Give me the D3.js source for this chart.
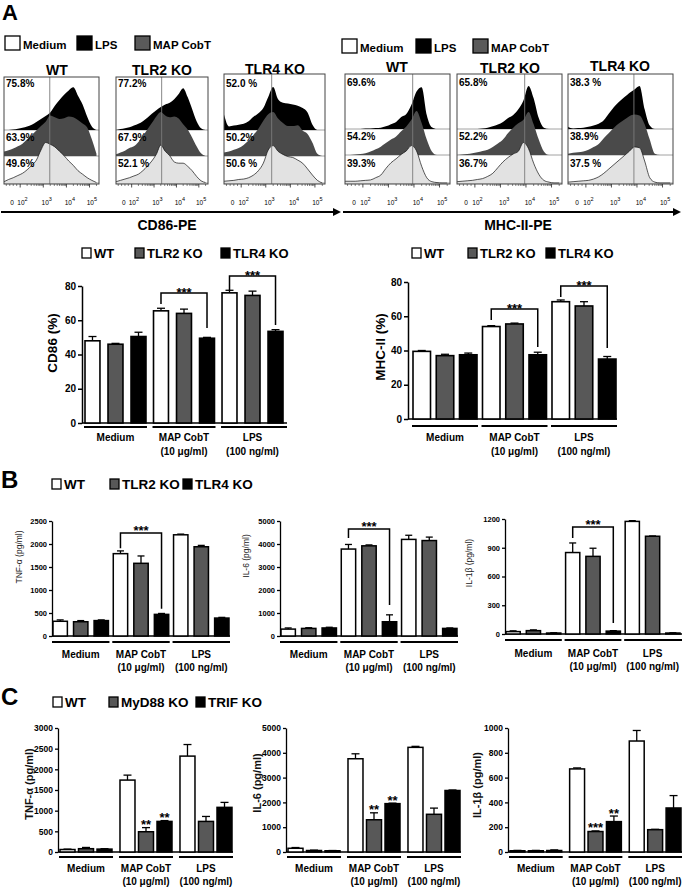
<!DOCTYPE html>
<html><head><meta charset="utf-8">
<script src="https://cdn.jsdelivr.net/npm/d3@7"></script>
<style>
body{margin:0;background:#fff;}
svg{display:block;font-family:"Liberation Sans",Arial,Helvetica,sans-serif;}
</style></head><body>
<svg id="fig" width="683" height="888"></svg>
<script>
// ================= DATA =================
const groups = ["Medium", "MAP CobT", "LPS"];
const groupSub = ["", "(10 μg/ml)", "(100 ng/ml)"];
const strainsTLR = ["WT", "TLR2 KO", "TLR4 KO"];
const strainsAdaptor = ["WT", "MyD88 KO", "TRIF KO"];
const histTreatments = ["Medium", "LPS", "MAP CobT"];

// Panel A bar charts (% positive), rows = groups, cols = strains
const cd86Mean = [[48, 46, 50.5], [65.5, 64, 49.5], [76, 74.5, 53.5]];
const cd86Err  = [[2.5, 0.5, 2.5], [1.5, 2.5, 0.5], [1.5, 2.5, 1]];
const mhcMean  = [[39.5, 37, 37.5], [54, 55.5, 37.5], [68.5, 66, 35]];
const mhcErr   = [[0.5, 0.8, 1], [0.5, 0.5, 1.5], [1, 2.5, 1.5]];
const pctTicks = [0, 20, 40, 60, 80];

// Panel B (pg/ml)
const tnfB = [[320, 310, 335], [1790, 1580, 470], [2200, 1940, 390]];
const tnfBErr = [[30, 25, 15], [60, 160, 20], [15, 30, 15]];
const il6B = [[300, 330, 350], [3780, 3920, 620], [4200, 4150, 330]];
const il6BErr = [[50, 30, 30], [200, 40, 300], [180, 150, 20]];
const il1bB = [[25, 35, 10], [850, 810, 30], [1175, 1020, 10]];
const il1bBErr = [[8, 8, 3], [100, 85, 5], [8, 3, 3]];
const tnfBTicks = [0, 500, 1000, 1500, 2000, 2500];
const il6Ticks = [0, 1000, 2000, 3000, 4000, 5000];
const il1bBTicks = [0, 300, 600, 900, 1200];

// Panel C (pg/ml)
const tnfC = [[60, 80, 70], [1740, 490, 740], [2320, 740, 1080]];
const tnfCErr = [[10, 30, 10], [120, 100, 20], [280, 120, 120]];
const il6C = [[150, 60, 50], [3760, 1300, 1950], [4220, 1520, 2480]];
const il6CErr = [[30, 15, 10], [200, 280, 20], [40, 250, 20]];
const il1bC = [[10, 10, 12], [670, 165, 245], [895, 180, 355]];
const il1bCErr = [[3, 3, 5], [8, 5, 45], [85, 3, 100]];
const tnfCTicks = [0, 500, 1000, 1500, 2000, 2500, 3000];
const il1bCTicks = [0, 200, 400, 600, 800, 1000];

// significance brackets: [group, fromSeries, toSeries, topValue, leftEndValue, rightEndValue, label]
const cd86Brackets = [[1, 0, 2, 75.9, 69.5, 55.5, "***"], [2, 0, 2, 85.8, 77.7, 57.2, "***"]];
const mhcBrackets  = [[1, 0, 2, 64.2, 57.8, 42.0, "***"], [2, 0, 2, 77.7, 71.2, 41.5, "***"]];
const tnfBBrackets = [[1, 0, 2, 2240, 1910, 590, "***"]];
const il6BBrackets = [[1, 0, 2, 4650, 4260, 1350, "***"]];
const il1bBBrackets = [[1, 0, 2, 1117, 1002, 115, "***"]];
// stars above bars: [group, series, label]
const tnfCStars = [[1, 1, "**"], [1, 2, "**"]];
const il6CStars = [[1, 1, "**"], [1, 2, "**"]];
const il1bCStars = [[1, 1, "***"], [1, 2, "**"]];

// Flow histograms: x = log-fluorescence (decades), y = relative counts
const histX = [1.3, 1.5, 1.7, 1.9, 2.1, 2.3, 2.5, 2.7, 2.9, 3.1, 3.3, 3.5, 3.7, 3.9, 4.1, 4.3, 4.5, 4.7, 4.9, 5.1, 5.3];
const histTickVals = [1.65, 2.1, 3.15, 4.15, 5.1];
const histTickLabels = ["0", "2", "3", "4", "5"];
// CD86
const cd86WT_LPS   = [0, 0, 1, 3, 5, 8, 12, 18, 25, 32, 40, 55, 68, 80, 90, 97, 78, 58, 30, 8, 0];
const cd86WT_MAP   = [10, 13, 17, 22, 28, 38, 48, 58, 68, 78, 92, 88, 84, 86, 90, 88, 82, 74, 65, 38, 5];
const cd86WT_Med   = [3, 8, 12, 17, 22, 30, 40, 52, 75, 92, 88, 82, 72, 62, 50, 40, 28, 20, 12, 6, 1];
const cd86TLR2_LPS = [0, 2, 4, 6, 10, 14, 20, 28, 37, 45, 52, 58, 62, 70, 82, 95, 75, 48, 20, 4, 0];
const cd86TLR2_MAP = [4, 8, 12, 18, 22, 32, 45, 60, 75, 90, 100, 92, 88, 90, 85, 72, 60, 42, 22, 6, 0];
const cd86TLR2_Med = [3, 6, 9, 12, 16, 20, 28, 38, 50, 65, 86, 72, 62, 48, 45, 45, 38, 28, 15, 5, 1];
const cd86TLR4_LPS = [35, 8, 10, 12, 14, 20, 30, 38, 50, 75, 98, 70, 62, 60, 58, 55, 50, 40, 12, 0, 0];
const cd86TLR4_MAP = [8, 10, 14, 18, 25, 35, 48, 62, 80, 95, 100, 85, 75, 68, 68, 70, 58, 50, 30, 5, 0];
const cd86TLR4_Med = [4, 5, 6, 8, 9, 12, 18, 28, 45, 75, 85, 72, 65, 60, 58, 52, 45, 32, 18, 6, 0];
// MHC-II
const mhcWT_LPS   = [0, 0, 0, 0, 1, 1, 2, 3, 6, 11, 16, 27, 34, 55, 85, 95, 32, 4, 0, 0, 0];
const mhcWT_MAP   = [0, 0, 1, 2, 4, 8, 13, 19, 27, 35, 42, 54, 65, 80, 100, 73, 35, 8, 0, 0, 0];
const mhcWT_Med   = [4, 4, 4, 5, 6, 7, 12, 18, 33, 46, 55, 65, 73, 85, 73, 38, 12, 3, 1, 0, 0];
const mhcTLR2_LPS = [0, 0, 0, 0, 0, 1, 3, 6, 10, 16, 25, 32, 45, 65, 98, 70, 25, 3, 0, 0, 0];
const mhcTLR2_MAP = [0, 1, 2, 4, 6, 9, 12, 18, 26, 35, 50, 62, 72, 80, 98, 70, 35, 8, 0, 0, 0];
const mhcTLR2_Med = [3, 4, 5, 6, 8, 10, 15, 22, 35, 48, 58, 66, 72, 92, 78, 45, 20, 6, 2, 0, 0];
const mhcTLR4_LPS = [5, 1, 2, 3, 5, 8, 12, 20, 35, 50, 62, 72, 82, 90, 98, 45, 8, 0, 0, 0, 0];
const mhcTLR4_MAP = [3, 5, 6, 8, 12, 18, 25, 38, 50, 62, 72, 80, 88, 92, 90, 70, 35, 3, 0, 0, 0];
const mhcTLR4_Med = [2, 3, 4, 5, 6, 9, 14, 22, 32, 42, 52, 62, 72, 82, 80, 50, 12, 2, 0, 0, 0];
// percentages shown in histogram rows (LPS, MAP CobT, Medium)
const cd86Pct = [["75.8%", "63.9%", "49.6%"], ["77.2%", "67.9%", "52.1 %"], ["52.0 %", "50.2%", "50.6 %"]];
const mhcPct  = [["69.6%", "54.2%", "39.3%"], ["65.8%", "52.2%", "36.7%"], ["38.3 %", "38.9%", "37.5 %"]];
const cd86Gate = [3.28, 3.34, 3.24];
const mhcGate = [3.95, 3.95, 3.88];

// ================= DRAWING =================
const FONT = '"Liberation Sans", Arial, Helvetica, sans-serif';
const svg = d3.select("#fig");
const barColors = ["#ffffff", "#585858", "#000000"];
const histFills = ["#000000", "#4a4a4a", "#e2e2e2"]; // LPS, MAP CobT, Medium

function txt(x, y, s, size, o = {}) {
  return svg.append("text").attr("x", x).attr("y", y).text(s)
    .attr("font-size", size).attr("font-weight", o.weight || "bold")
    .attr("text-anchor", o.anchor || "start").attr("fill", o.fill || "#000")
    .attr("font-family", FONT);
}
function box(x, y, w, h, fill) {
  svg.append("rect").attr("x", x).attr("y", y).attr("width", w).attr("height", h)
    .attr("fill", fill).attr("stroke", "#000").attr("stroke-width", 1.3);
}

// ---- panel letters
txt(2, 20, "A", 22);
txt(1, 488, "B", 24);
txt(1, 705, "C", 24);

// ---- top legends
[[5, 77, 135, 36, 49], [342, 416, 473, 39, 52]].forEach(([a, b, c, yb, yt]) => {
  box(a, yb, 15, 14, "#fff"); txt(a + 18, yt, "Medium", 11.5);
  box(b, yb, 15, 14, "#000"); txt(b + 18, yt, "LPS", 11.5);
  box(c, yb, 15, 14, "#5a5a5a"); txt(c + 18, yt, "MAP CobT", 11.5);
});

// ---- histograms
function histPanel(b, title, curves, pcts, gate, layout) {
  const g = svg.append("g");
  const x = d3.scaleLinear().domain([1.3, 5.41]).range([b.x0, b.x1]);
  const h = d3.scaleLinear().domain([0, 100]).range([0, 44]);
  const base = [layout.b1, layout.b2, layout.bottom - 1];
  g.append("rect").attr("x", b.x0).attr("y", b.top).attr("width", b.x1 - b.x0)
    .attr("height", layout.bottom - b.top).attr("fill", "#fff");
  curves.forEach((c, i) => {
    g.append("line").attr("x1", b.x0).attr("x2", b.x1).attr("y1", base[i]).attr("y2", base[i])
      .attr("stroke", "#8a8a8a").attr("stroke-width", 0.8);
    const area = d3.area().x((d, j) => x(histX[j])).y0(base[i]).y1(d => base[i] - h(d))
      .curve(d3.curveMonotoneX);
    const line = d3.line().x((d, j) => x(histX[j])).y(d => base[i] - h(d)).curve(d3.curveMonotoneX);
    g.append("path").datum(c).attr("d", area).attr("fill", histFills[i]);
    if (i === 2) g.append("path").datum(c).attr("d", line).attr("fill", "none")
      .attr("stroke", "#111").attr("stroke-width", 0.7);
  });
  g.append("line").attr("x1", x(gate)).attr("x2", x(gate)).attr("y1", b.top).attr("y2", layout.bottom)
    .attr("stroke", "#7a7a7a").attr("stroke-width", 0.9);
  g.append("rect").attr("x", b.x0).attr("y", b.top).attr("width", b.x1 - b.x0)
    .attr("height", layout.bottom - b.top).attr("fill", "none").attr("stroke", "#444").attr("stroke-width", 1);
  pcts.forEach((p, i) => txt(b.x0 + 2, layout.pctY[i], p, 10));
  txt(b.tx, layout.titleY + (b.tdy || 0), title, 14, { anchor: "middle" });
  // bottom ticks
  const minor = [1.4, 1.55, 1.7, 1.85];
  [2, 3, 4, 5].forEach(k => [2, 3, 4, 5, 6, 7, 8, 9].forEach(m => {
    const v = k + Math.log10(m); if (v < 5.41) minor.push(v);
  }));
  minor.forEach(v => g.append("line").attr("x1", x(v)).attr("x2", x(v))
    .attr("y1", layout.bottom).attr("y2", layout.bottom + 2).attr("stroke", "#333").attr("stroke-width", 0.6));
  [2, 3, 4, 5].forEach(v => g.append("line").attr("x1", x(v)).attr("x2", x(v))
    .attr("y1", layout.bottom).attr("y2", layout.bottom + 3.5).attr("stroke", "#222").attr("stroke-width", 0.8));
  histTickVals.forEach((v, i) => {
    const t = g.append("text").attr("x", x(v)).attr("y", 205).attr("text-anchor", "middle")
      .attr("font-size", 6.5).attr("font-family", FONT).attr("fill", "#000");
    if (i === 0) t.text("0");
    else { t.append("tspan").text("10"); t.append("tspan").attr("dy", -4.5).attr("font-size", 5.5).text(histTickLabels[i]); }
  });
}

const leftLayout = { b1: 130, b2: 156, bottom: 184, pctY: [87, 141, 167], titleY: 75 };
const rightLayout = { b1: 129, b2: 155, bottom: 184, pctY: [86, 140, 167], titleY: 72 };
const cd86Boxes = [{ x0: 4, x1: 99, top: 77, tx: 57 }, { x0: 116, x1: 208, top: 77, tx: 162 }, { x0: 224, x1: 325, top: 74, tx: 275, tdy: -1 }];
const mhcBoxes = [{ x0: 345, x1: 450, top: 74, tx: 397 }, { x0: 457, x1: 562, top: 74, tx: 510, tdy: 1 }, { x0: 568, x1: 673, top: 74, tx: 620, tdy: -1 }];
const cd86Curves = [[cd86WT_LPS, cd86WT_MAP, cd86WT_Med], [cd86TLR2_LPS, cd86TLR2_MAP, cd86TLR2_Med], [cd86TLR4_LPS, cd86TLR4_MAP, cd86TLR4_Med]];
const mhcCurves = [[mhcWT_LPS, mhcWT_MAP, mhcWT_Med], [mhcTLR2_LPS, mhcTLR2_MAP, mhcTLR2_Med], [mhcTLR4_LPS, mhcTLR4_MAP, mhcTLR4_Med]];
strainsTLR.forEach((s, i) => {
  histPanel(cd86Boxes[i], s, cd86Curves[i], cd86Pct[i], cd86Gate[i], leftLayout);
  histPanel(mhcBoxes[i], s, mhcCurves[i], mhcPct[i], mhcGate[i], rightLayout);
});

// arrows
[[1, 333], [343, 673]].forEach(([a, b]) => {
  svg.append("line").attr("x1", a).attr("x2", b + 1).attr("y1", 212).attr("y2", 212).attr("stroke", "#000").attr("stroke-width", 1.8);
  svg.append("polygon").attr("points", `${b},208 ${b + 8},212 ${b},216`).attr("fill", "#000");
});
txt(167, 230, "CD86-PE", 14, { anchor: "middle" });
txt(518, 230, "MHC-II-PE", 14, { anchor: "middle" });

// ---- bar chart legends
function barLegend(items, yBox, size, fontSize) {
  items.forEach(([bx, label, color]) => {
    box(bx, yBox, size, size + 1, color);
    txt(bx + size + 3, yBox + size + 0.5, label, fontSize);
  });
}
barLegend([[82, "WT", barColors[0]], [135, "TLR2 KO", barColors[1]], [221, "TLR4 KO", barColors[2]]], 248, 9, 13);
barLegend([[412, "WT", barColors[0]], [468, "TLR2 KO", barColors[1]], [546, "TLR4 KO", barColors[2]]], 248, 9, 13);
barLegend([[52, "WT", barColors[0]], [110, "TLR2 KO", barColors[1]], [183, "TLR4 KO", barColors[2]]], 479, 9, 13.5);
barLegend([[53, "WT", barColors[0]], [109, "MyD88 KO", barColors[1]], [196, "TRIF KO", barColors[2]]], 697, 9, 13.5);

// ---- bar charts
function barChart(c) {
  const g = svg.append("g");
  const y = d3.scaleLinear().domain([0, c.yMax]).range([c.yBottom, c.yTop]);
  const gx = d3.scaleBand().domain(groups).range([c.barX0, c.barX1]).paddingInner(c.groupPad).paddingOuter(0);
  const sx = d3.scaleBand().domain(c.series).range([0, gx.bandwidth()]).paddingInner(c.innerPad).paddingOuter(0);
  const bw = sx.bandwidth();
  const ax = g.append("g").attr("transform", `translate(${c.axisX},0)`)
    .call(d3.axisLeft(y).tickValues(c.ticks).tickSize(c.tickLen).tickSizeOuter(0).tickPadding(2).tickFormat(d3.format("d")));
  ax.select(".domain").attr("stroke", "#000").attr("stroke-width", c.axisW);
  ax.selectAll(".tick line").attr("stroke", "#000").attr("stroke-width", c.axisW);
  ax.selectAll(".tick text").attr("font-size", c.tickFont).attr("font-weight", "bold")
    .attr("font-family", FONT).attr("fill", "#000");
  g.append("line").attr("x1", c.axisX).attr("x2", c.axisEnd).attr("y1", c.yBottom).attr("y2", c.yBottom)
    .attr("stroke", "#000").attr("stroke-width", c.axisW);
  const cxOf = (gi, si) => gx(groups[gi]) + sx(c.series[si]) + bw / 2;
  groups.forEach((grp, gi) => c.series.forEach((s, si) => {
    const v = c.means[gi][si], e = c.errs[gi][si];
    const bx = gx(grp) + sx(s), cx = bx + bw / 2;
    g.append("line").attr("x1", cx).attr("x2", cx).attr("y1", y(v)).attr("y2", y(v + e)).attr("stroke", "#000").attr("stroke-width", 1.3);
    g.append("line").attr("x1", cx - c.cap).attr("x2", cx + c.cap).attr("y1", y(v + e)).attr("y2", y(v + e)).attr("stroke", "#000").attr("stroke-width", 1.3);
    g.append("rect").attr("x", bx).attr("y", y(v)).attr("width", bw).attr("height", c.yBottom - y(v))
      .attr("fill", barColors[si]).attr("stroke", "#000").attr("stroke-width", c.barStroke);
  }));
  groups.forEach((grp, gi) => {
    const gs = gx(grp), ge = gs + gx.bandwidth();
    g.append("line").attr("x1", gs - 1).attr("x2", gi === 2 ? Math.max(ge + 1, c.axisEnd) : ge + 1)
      .attr("y1", c.underY).attr("y2", c.underY).attr("stroke", "#000").attr("stroke-width", 1.8);
    const mid = (gs + ge) / 2;
    txt(mid, c.catY1, grp, c.catFont, { anchor: "middle" });
    if (groupSub[gi]) txt(mid, c.catY2, groupSub[gi], c.catFont, { anchor: "middle" });
  });
  (c.brackets || []).forEach(([gi, a, b, top, l, r, lab]) => {
    const xa = cxOf(gi, a), xb = cxOf(gi, b);
    g.append("path").attr("d", `M${xa},${y(l)}V${y(top)}H${xb}V${y(r)}`)
      .attr("fill", "none").attr("stroke", "#000").attr("stroke-width", 1.5);
    txt((xa + xb) / 2, y(top) + c.starDy, lab, 13, { anchor: "middle" });
  });
  (c.stars || []).forEach(([gi, si, lab]) => {
    const v = c.means[gi][si] + c.errs[gi][si];
    txt(cxOf(gi, si), y(v) + 1.5, lab, 13, { anchor: "middle" });
  });
  svg.append("text").attr("transform", `translate(${c.ylx},${c.yly}) rotate(-90)`)
    .attr("text-anchor", "middle").attr("font-size", c.ylFont).attr("font-weight", c.ylWeight)
    .attr("font-family", FONT).attr("fill", c.ylFill || "#000").text(c.ylabel);
}

// Panel A
barChart({ means: cd86Mean, errs: cd86Err, series: strainsTLR, axisX: 82, barX0: 85, barX1: 283, groupPad: 0.11, innerPad: 0.35,
  yTop: 286, yBottom: 423, yMax: 80, ticks: pctTicks, tickLen: 4, tickFont: 10, axisW: 1.5, axisEnd: 287, cap: 4, barStroke: 1.6,
  underY: 427, catY1: 441, catY2: 455, catFont: 10, brackets: cd86Brackets, starDy: 4,
  ylabel: "CD86 (%)", ylx: 57, yly: 343, ylFont: 13.5, ylWeight: "bold" });
barChart({ means: mhcMean, errs: mhcErr, series: strainsTLR, axisX: 408, barX0: 413, barX1: 616, groupPad: 0.079, innerPad: 0.247,
  yTop: 282, yBottom: 419, yMax: 80, ticks: pctTicks, tickLen: 4, tickFont: 10, axisW: 1.5, axisEnd: 617, cap: 4, barStroke: 1.6,
  underY: 426, catY1: 441, catY2: 455, catFont: 10, brackets: mhcBrackets, starDy: 4,
  ylabel: "MHC-II (%)", ylx: 385, yly: 347, ylFont: 13.5, ylWeight: "bold" });

// Panel B
const bCommon = { series: strainsTLR, groupPad: 0.08, innerPad: 0.3, yTop: 521, yBottom: 636, tickLen: 3, tickFont: 7.5,
  axisW: 1.3, cap: 3.5, barStroke: 1.5, underY: 642, catY1: 658, catY2: 671, catFont: 10, starDy: 2,
  ylFont: 8.5, ylWeight: "normal", ylFill: "#222" };
barChart(Object.assign({}, bCommon, { means: tnfB, errs: tnfBErr, axisX: 52, barX0: 53, barX1: 229, axisEnd: 230,
  yMax: 2500, ticks: tnfBTicks, brackets: tnfBBrackets, ylabel: "TNF-α (pg/ml)", ylx: 22, yly: 557 }));
barChart(Object.assign({}, bCommon, { means: il6B, errs: il6BErr, axisX: 280, barX0: 281, barX1: 457, axisEnd: 458,
  yMax: 5000, ticks: il6Ticks, brackets: il6BBrackets, ylabel: "IL-6 (pg/ml)", ylx: 249, yly: 556 }));
barChart(Object.assign({}, bCommon, { means: il1bB, errs: il1bBErr, axisX: 505, barX0: 506, barX1: 680, axisEnd: 682,
  yTop: 519, yBottom: 634, underY: 640, catY1: 657, catY2: 670,
  yMax: 1200, ticks: il1bBTicks, brackets: il1bBBrackets, ylabel: "IL-1β (pg/ml)", ylx: 472, yly: 563 }));

// Panel C
const cCommon = { series: strainsAdaptor, groupPad: 0.133, innerPad: 0.19, yTop: 728, yBottom: 852, tickLen: 3, tickFont: 8.5,
  axisW: 1.3, cap: 4, barStroke: 1.5, underY: 857, catY1: 872, catY2: 885, catFont: 10, starDy: 2,
  ylFont: 11, ylWeight: "bold", ylFill: "#111" };
barChart(Object.assign({}, cCommon, { means: tnfC, errs: tnfCErr, axisX: 58, barX0: 60, barX1: 232, axisEnd: 233,
  yMax: 3000, ticks: tnfCTicks, stars: tnfCStars, ylabel: "TNF-α (pg/ml)", ylx: 33, yly: 784 }));
barChart(Object.assign({}, cCommon, { means: il6C, errs: il6CErr, axisX: 286, barX0: 288, barX1: 460, axisEnd: 461,
  yMax: 5000, ticks: il6Ticks, stars: il6CStars, ylabel: "IL-6 (pg/ml)", ylx: 261, yly: 783 }));
barChart(Object.assign({}, cCommon, { means: il1bC, errs: il1bCErr, axisX: 508, barX0: 510, barX1: 681, axisEnd: 682,
  yMax: 1000, ticks: il1bCTicks, stars: il1bCStars, ylabel: "IL-1β (pg/ml)", ylx: 481, yly: 785 }));
</script>
</body></html>
